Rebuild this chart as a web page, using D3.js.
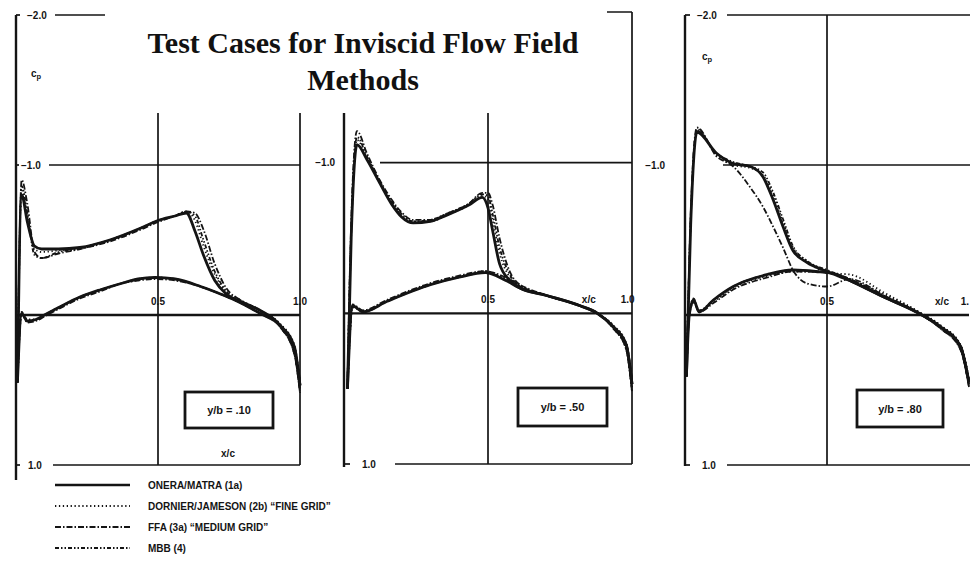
<!DOCTYPE html>
<html>
<head>
<meta charset="utf-8">
<script src="https://cdn.jsdelivr.net/npm/d3@7"></script>
<style>
  html, body { margin: 0; padding: 0; background: #fff; }
  svg { display: block; }
</style>
</head>
<body>
<svg id="chart" width="970" height="587"></svg>
<script>
// ---------------- DATA ----------------
const seriesNames = ["ONERA/MATRA (1a)", "DORNIER/JAMESON (2b) \u201CFINE GRID\u201D", "FFA (3a) \u201CMEDIUM GRID\u201D", "MBB (4)"];
const panelLabels = ["y/b = .10", "y/b = .50", "y/b = .80"];
const yTickLabels = { "-2": "\u22122.0", "-1": "\u22121.0", "1": "1.0" };

// Panel 1 (y/b = .10)
const p1UpperX = [0.005, 0.02, 0.04, 0.065, 0.09, 0.15, 0.225, 0.33, 0.44, 0.50, 0.56, 0.60, 0.63, 0.66, 0.70, 0.74, 0.79, 0.86, 0.93, 0.98, 1.0];
const p1UpperOnera   = [0.45, -0.80, -0.62, -0.46, -0.44, -0.44, -0.45, -0.50, -0.58, -0.63, -0.66, -0.68, -0.56, -0.40, -0.23, -0.14, -0.09, -0.03, 0.07, 0.23, 0.47];
const p1UpperDornier = [0.45, -0.84, -0.66, -0.44, -0.42, -0.43, -0.45, -0.50, -0.58, -0.63, -0.66, -0.69, -0.63, -0.46, -0.27, -0.15, -0.09, -0.03, 0.06, 0.21, 0.45];
const p1UpperFfa     = [0.45, -0.90, -0.74, -0.42, -0.38, -0.41, -0.44, -0.49, -0.57, -0.62, -0.66, -0.69, -0.68, -0.57, -0.34, -0.18, -0.10, -0.03, 0.08, 0.26, 0.52];
const p1UpperMbb     = [0.45, -0.86, -0.68, -0.40, -0.38, -0.42, -0.44, -0.50, -0.58, -0.63, -0.66, -0.69, -0.66, -0.50, -0.29, -0.16, -0.10, -0.03, 0.07, 0.24, 0.49];
const p1LowerX = [0.005, 0.02, 0.04, 0.07, 0.10, 0.15, 0.225, 0.30, 0.37, 0.43, 0.49, 0.56, 0.65, 0.72, 0.77, 0.86, 0.93, 0.98, 1.0];
const p1LowerOnera   = [0.45, -0.01, 0.04, 0.03, 0.00, -0.05, -0.12, -0.17, -0.21, -0.24, -0.25, -0.24, -0.19, -0.14, -0.10, -0.01, 0.07, 0.21, 0.47];
const p1LowerDornier = [0.45, -0.02, 0.03, 0.03, 0.00, -0.05, -0.12, -0.17, -0.21, -0.24, -0.25, -0.24, -0.19, -0.14, -0.10, -0.01, 0.06, 0.20, 0.45];
const p1LowerFfa     = [0.45, -0.01, 0.05, 0.04, 0.01, -0.04, -0.11, -0.16, -0.21, -0.23, -0.24, -0.23, -0.19, -0.14, -0.10, -0.01, 0.08, 0.26, 0.52];
const p1LowerMbb     = [0.45, -0.02, 0.04, 0.03, 0.00, -0.05, -0.12, -0.17, -0.21, -0.24, -0.25, -0.24, -0.19, -0.14, -0.10, -0.01, 0.07, 0.24, 0.49];

// Panel 2 (y/b = .50)
const p2UpperX = [0.012, 0.025, 0.045, 0.08, 0.12, 0.167, 0.20, 0.24, 0.30, 0.355, 0.435, 0.48, 0.50, 0.516, 0.54, 0.575, 0.61, 0.70, 0.82, 0.88, 0.935, 0.98, 1.0];
const p2UpperOnera   = [0.50, -0.50, -1.12, -1.02, -0.88, -0.72, -0.64, -0.60, -0.61, -0.65, -0.72, -0.77, -0.70, -0.55, -0.33, -0.22, -0.17, -0.12, -0.05, 0.00, 0.09, 0.21, 0.47];
const p2UpperDornier = [0.50, -0.55, -1.15, -1.03, -0.88, -0.73, -0.65, -0.61, -0.61, -0.65, -0.72, -0.78, -0.76, -0.62, -0.40, -0.24, -0.18, -0.12, -0.05, 0.00, 0.08, 0.20, 0.45];
const p2UpperFfa     = [0.50, -0.60, -1.21, -1.06, -0.90, -0.75, -0.67, -0.62, -0.62, -0.66, -0.73, -0.80, -0.80, -0.72, -0.50, -0.28, -0.19, -0.12, -0.05, 0.00, 0.10, 0.24, 0.52];
const p2UpperMbb     = [0.50, -0.52, -1.17, -1.04, -0.89, -0.74, -0.66, -0.61, -0.62, -0.66, -0.73, -0.79, -0.78, -0.66, -0.44, -0.26, -0.18, -0.12, -0.05, 0.00, 0.09, 0.22, 0.49];
const p2LowerX = [0.012, 0.03, 0.066, 0.15, 0.30, 0.40, 0.49, 0.56, 0.62, 0.70, 0.82, 0.88, 0.935, 0.98, 1.0];
const p2LowerOnera   = [0.50, -0.05, -0.01, -0.08, -0.19, -0.24, -0.27, -0.22, -0.16, -0.12, -0.05, 0.00, 0.09, 0.21, 0.47];
const p2LowerDornier = [0.50, -0.04, -0.01, -0.08, -0.19, -0.24, -0.28, -0.23, -0.17, -0.12, -0.05, 0.00, 0.08, 0.20, 0.45];
const p2LowerFfa     = [0.50, -0.06, -0.02, -0.09, -0.20, -0.25, -0.28, -0.24, -0.18, -0.12, -0.05, 0.00, 0.10, 0.24, 0.52];
const p2LowerMbb     = [0.50, -0.05, -0.01, -0.08, -0.19, -0.24, -0.27, -0.23, -0.17, -0.12, -0.05, 0.00, 0.09, 0.22, 0.49];

// Panel 3 (y/b = .80)
const p3UpperX = [0.005, 0.02, 0.042, 0.11, 0.17, 0.23, 0.275, 0.31, 0.345, 0.38, 0.43, 0.50, 0.58, 0.70, 0.815, 0.90, 0.97, 1.0];
const p3UpperOnera   = [0.41, -0.60, -1.22, -1.08, -1.01, -0.99, -0.92, -0.77, -0.59, -0.43, -0.35, -0.29, -0.23, -0.12, -0.02, 0.08, 0.21, 0.45];
const p3UpperDornier = [0.41, -0.62, -1.24, -1.07, -1.00, -0.98, -0.93, -0.80, -0.62, -0.45, -0.36, -0.28, -0.27, -0.15, -0.03, 0.07, 0.20, 0.43];
const p3UpperFfa     = [0.41, -0.66, -1.25, -1.06, -0.99, -0.85, -0.72, -0.59, -0.45, -0.30, -0.21, -0.19, -0.24, -0.13, -0.02, 0.09, 0.23, 0.48];
const p3UpperMbb     = [0.41, -0.63, -1.23, -1.08, -1.02, -0.99, -0.95, -0.82, -0.64, -0.46, -0.36, -0.30, -0.24, -0.12, -0.02, 0.08, 0.22, 0.46];
const p3LowerX = [0.005, 0.015, 0.03, 0.05, 0.10, 0.17, 0.29, 0.38, 0.46, 0.535, 0.58, 0.70, 0.815, 0.90, 0.97, 1.0];
const p3LowerOnera   = [0.41, 0.00, -0.10, -0.02, -0.10, -0.19, -0.27, -0.30, -0.29, -0.27, -0.23, -0.12, -0.02, 0.08, 0.21, 0.45];
const p3LowerDornier = [0.41, 0.00, -0.08, -0.03, -0.09, -0.18, -0.26, -0.29, -0.29, -0.27, -0.24, -0.14, -0.03, 0.07, 0.20, 0.43];
const p3LowerFfa     = [0.41, 0.00, -0.09, -0.02, -0.08, -0.17, -0.25, -0.29, -0.29, -0.27, -0.24, -0.13, -0.02, 0.09, 0.23, 0.48];
const p3LowerMbb     = [0.41, 0.00, -0.11, -0.03, -0.10, -0.19, -0.27, -0.30, -0.29, -0.27, -0.23, -0.12, -0.02, 0.08, 0.22, 0.46];

// ---------------- LAYOUT / STYLE ----------------
const ink = "#141414";
const styles = [
  { width: 2.8, dash: null },
  { width: 1.8, dash: "1.3,2.6" },
  { width: 1.8, dash: "6,2,1.5,2" },
  { width: 1.8, dash: "4,2,1.5,2,1.5,2" }
];

const panels = [
  { xr: [16, 300], yr: [15, 465],
    upperX: p1UpperX, upper: [p1UpperOnera, p1UpperDornier, p1UpperFfa, p1UpperMbb],
    lowerX: p1LowerX, lower: [p1LowerOnera, p1LowerDornier, p1LowerFfa, p1LowerMbb],
    box: [185, 392, 88, 36],
    hSegs: { "-2": [[16, 20], [55, 300]], "-1": [[16, 19], [49, 300]], "1": [[16, 20], [53, 300]] },
    vLines: [{ v: 0, y0: 15, y1: 480 }, { v: 0.5, y0: 15, y1: 465 }, { v: 1, y0: 15, y1: 465 }],
    yLab: { "-2": [27, "start"], "-1": [21, "start"], "1": [28, "start"] },
    xLabs: [{ t: "0.5", v: 0.5, a: "middle" }, { t: "1.0", v: 1.0, a: "middle" }],
    xcLab: [228, 457], cp: [31, 77] },
  { xr: [344, 632], yr: [12, 464],
    upperX: p2UpperX, upper: [p2UpperOnera, p2UpperDornier, p2UpperFfa, p2UpperMbb],
    lowerX: p2LowerX, lower: [p2LowerOnera, p2LowerDornier, p2LowerFfa, p2LowerMbb],
    box: [518, 388, 89, 38],
    hSegs: { "-2": [[345, 632]], "-1": [[380, 632]], "1": [[345, 350], [395, 632]] },
    vLines: [{ v: 0, y0: 12, y1: 467 }, { v: 0.5, y0: 12, y1: 464 }, { v: 1, y0: 12, y1: 464 }],
    yLab: { "-1": [335, "end"], "1": [362, "start"] },
    xLabs: [{ t: "0.5", v: 0.5, a: "middle" }, { t: "x/c", v: 0.85, a: "middle" }, { t: "1.0", v: 0.985, a: "middle" }],
    xcLab: null, cp: null },
  { xr: [685, 969], yr: [15, 465],
    upperX: p3UpperX, upper: [p3UpperOnera, p3UpperDornier, p3UpperFfa, p3UpperMbb],
    lowerX: p3LowerX, lower: [p3LowerOnera, p3LowerDornier, p3LowerFfa, p3LowerMbb],
    box: [857, 390, 86, 37],
    hSegs: { "-2": [[685, 690], [727, 975]], "-1": [[723, 975]], "1": [[685, 690], [727, 975]] },
    vLines: [{ v: 0, y0: 15, y1: 466 }, { v: 0.5, y0: 15, y1: 465 }],
    yLab: { "-2": [697, "start"], "-1": [665, "end"], "1": [702, "start"] },
    xLabs: [{ t: "0.5", v: 0.5, a: "middle" }, { t: "x/c", v: 0.905, a: "middle" }, { t: "1.", v: 1.0, a: "end" }],
    xcLab: null, cp: [702, 60] }
];

// ---------------- DRAW ----------------
const svg = d3.select("#chart");
svg.append("rect").attr("width", 970).attr("height", 587).attr("fill", "#fff");

const labelFont = "'Liberation Sans', Arial, sans-serif";
const tickSize = 10;

panels.forEach((p, pi) => {
  const x = d3.scaleLinear().domain([0, 1]).range(p.xr);
  const y = d3.scaleLinear().domain([-2, 1]).range(p.yr);
  const g = svg.append("g");

  // vertical frame / grid lines
  p.vLines.forEach(l => {
    g.append("line").attr("x1", x(l.v)).attr("x2", x(l.v))
      .attr("y1", l.y0).attr("y2", l.y1)
      .attr("stroke", ink).attr("stroke-width", l.v === 0 ? 2.4 : 1.7);
  });
  // horizontal frame / grid lines (segments leave room for labels)
  Object.entries(p.hSegs).forEach(([v, segs]) => {
    segs.forEach(s => {
      g.append("line").attr("x1", s[0]).attr("x2", Math.min(s[1], 970))
        .attr("y1", y(+v)).attr("y2", y(+v))
        .attr("stroke", ink).attr("stroke-width", 1.7);
    });
  });
  // zero axis
  g.append("line").attr("x1", x(0)).attr("x2", Math.min(x(1), 969))
    .attr("y1", y(0)).attr("y2", y(0))
    .attr("stroke", ink).attr("stroke-width", 2.4);

  // curves
  const line = d3.line().x(d => x(d[0])).y(d => y(d[1])).curve(d3.curveMonotoneX);
  [3, 2, 1, 0].forEach(si => {
    const st = styles[si];
    const up = p.upperX.map((xv, i) => [xv, p.upper[si][i]]);
    const lo = p.lowerX.map((xv, i) => [xv, p.lower[si][i]]);
    [up, lo].forEach(pts => {
      g.append("path").attr("d", line(pts))
        .attr("fill", "none").attr("stroke", ink)
        .attr("stroke-width", st.width)
        .attr("stroke-dasharray", st.dash)
        .attr("stroke-linejoin", "round");
    });
  });

  // y tick labels
  Object.entries(p.yLab).forEach(([v, a]) => {
    g.append("text").attr("x", a[0]).attr("y", y(+v) + 3.6)
      .attr("text-anchor", a[1])
      .attr("font-family", labelFont).attr("font-weight", "bold")
      .attr("font-size", tickSize).attr("fill", ink).text(yTickLabels[v]);
  });
  // x tick labels
  p.xLabs.forEach(l => {
    g.append("text").attr("x", Math.min(x(l.v), 969)).attr("y", y(0) - 10.5)
      .attr("text-anchor", l.a)
      .attr("font-family", labelFont).attr("font-weight", "bold")
      .attr("font-size", tickSize).attr("fill", ink).text(l.t);
  });
  if (p.xcLab) {
    g.append("text").attr("x", p.xcLab[0]).attr("y", p.xcLab[1])
      .attr("text-anchor", "middle")
      .attr("font-family", labelFont).attr("font-weight", "bold")
      .attr("font-size", tickSize).attr("fill", ink).text("x/c");
  }
  if (p.cp) {
    const t = g.append("text").attr("x", p.cp[0]).attr("y", p.cp[1])
      .attr("font-family", labelFont).attr("font-weight", "bold")
      .attr("font-size", 10).attr("fill", ink);
    t.append("tspan").text("c");
    t.append("tspan").attr("font-size", 7.5).attr("dy", 2).text("p");
  }

  // panel label box
  const b = p.box;
  g.append("rect").attr("x", b[0]).attr("y", b[1]).attr("width", b[2]).attr("height", b[3])
    .attr("fill", "#fff").attr("stroke", ink).attr("stroke-width", 2.8);
  g.append("text").attr("x", b[0] + b[2] / 2).attr("y", b[1] + b[3] / 2 + 4)
    .attr("text-anchor", "middle")
    .attr("font-family", labelFont).attr("font-weight", "bold")
    .attr("font-size", 11).attr("fill", ink).text(panelLabels[pi]);
});

// white area behind the title (covers frame parts, as in the original)
svg.append("rect").attr("x", 105).attr("y", 0).attr("width", 502).attr("height", 113).attr("fill", "#fff");

// title
const title = svg.append("text").attr("text-anchor", "middle")
  .attr("font-family", "'Liberation Serif', 'Times New Roman', serif")
  .attr("font-weight", "bold").attr("font-size", 30).attr("fill", "#111");
title.append("tspan").attr("x", 363).attr("y", 53).text("Test Cases for Inviscid Flow Field");
title.append("tspan").attr("x", 363).attr("y", 90).text("Methods");

// legend
const legend = svg.append("g");
seriesNames.forEach((name, i) => {
  const yy = 485 + i * 21;
  const st = styles[i];
  legend.append("line").attr("x1", 55).attr("x2", 130).attr("y1", yy).attr("y2", yy)
    .attr("stroke", ink).attr("stroke-width", i === 0 ? 2.4 : 1.8)
    .attr("stroke-dasharray", st.dash);
  legend.append("text").attr("x", 148).attr("y", yy + 3.8)
    .attr("font-family", labelFont).attr("font-weight", "bold")
    .attr("font-size", 10).attr("fill", ink).text(name);
});
</script>
</body>
</html>
